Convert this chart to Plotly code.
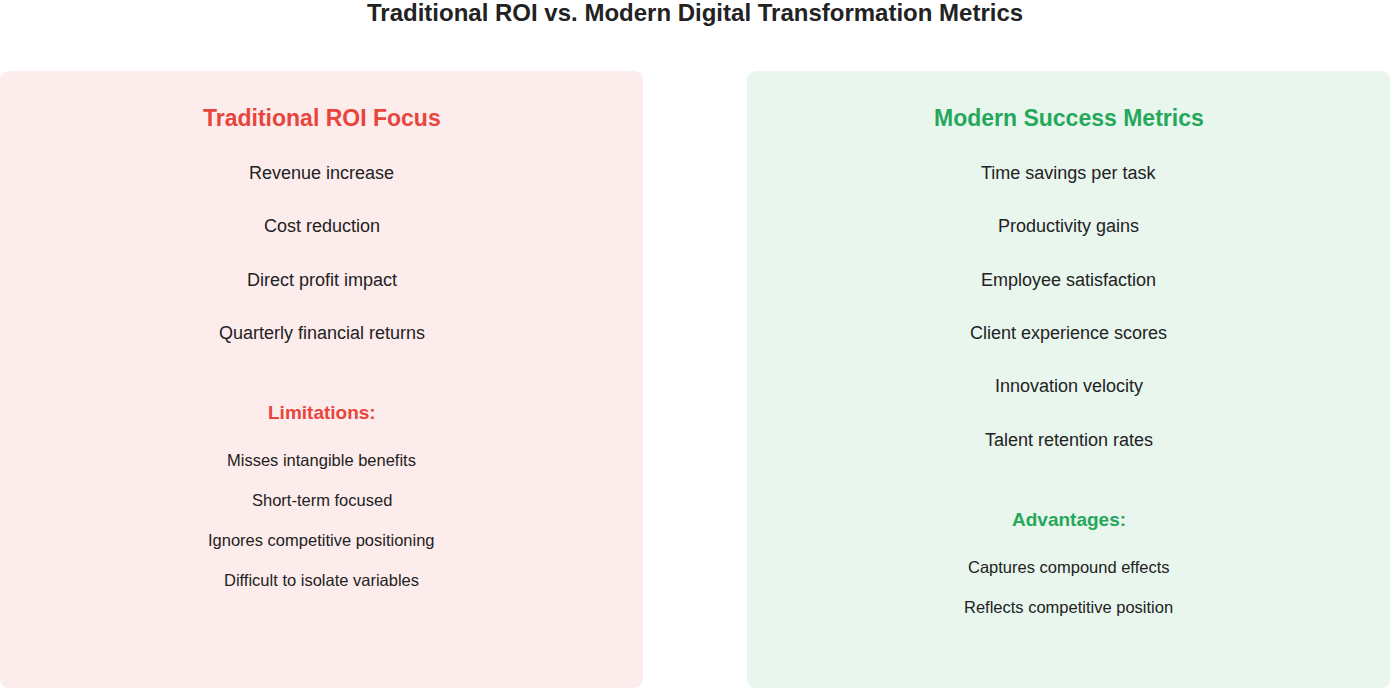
import plotly.graph_objects as go

title = "Traditional ROI vs. Modern Digital Transformation Metrics"
left_header = "Traditional ROI Focus"
left_items = ["Revenue increase", "Cost reduction", "Direct profit impact", "Quarterly financial returns"]
left_sub = "Limitations:"
left_sub_items = ["Misses intangible benefits", "Short-term focused", "Ignores competitive positioning", "Difficult to isolate variables"]
right_header = "Modern Success Metrics"
right_items = ["Time savings per task", "Productivity gains", "Employee satisfaction",
               "Client experience scores", "Innovation velocity", "Talent retention rates"]
right_sub = "Advantages:"
right_sub_items = ["Captures compound effects", "Reflects competitive position"]

W, H = 1390, 688
RED, GREEN, TXT = "#E8453C", "#25A85A", "#222222"
FONT = "Liberation Sans, Arial, sans-serif"

def rrect(x0, y0, x1, y1, r):
    return (f"M{x0+r},{y0} L{x1-r},{y0} Q{x1},{y0} {x1},{y0+r} L{x1},{y1-r} Q{x1},{y1} {x1-r},{y1} "
            f"L{x0+r},{y1} Q{x0},{y1} {x0},{y1-r} L{x0},{y0+r} Q{x0},{y0} {x0+r},{y0} Z")

fig = go.Figure()
fig.add_shape(type="path", path=rrect(0, 71, 643, 688, 10), fillcolor="#FDECEC", line_width=0, layer="below")
fig.add_shape(type="path", path=rrect(747, 71, 1390, 688, 10), fillcolor="#E8F6EE", line_width=0, layer="below")

def txt(x, y, s, size, color=TXT, bold=False):
    fig.add_annotation(x=x, y=y, text=f"<b>{s}</b>" if bold else s, showarrow=False,
                       font=dict(family=FONT, size=size, color=color), xanchor="center", yanchor="middle")

txt(695, 12, title, 24, "#222222", True)
lc, rc = 321.5, 1068.5
txt(lc, 118, left_header, 23, RED, True)
for i, s in enumerate(left_items):
    txt(lc, 173 + i * 53.3, s, 18)
txt(lc, 412, left_sub, 19, RED, True)
for i, s in enumerate(left_sub_items):
    txt(lc, 460 + i * 40, s, 16.5)
txt(rc, 118, right_header, 23, GREEN, True)
for i, s in enumerate(right_items):
    txt(rc, 173 + i * 53.3, s, 18)
txt(rc, 519, right_sub, 19, GREEN, True)
for i, s in enumerate(right_sub_items):
    txt(rc, 567 + i * 40, s, 16.5)

fig.update_xaxes(range=[0, W], visible=False, fixedrange=True)
fig.update_yaxes(range=[H, 0], visible=False, fixedrange=True)
fig.update_layout(width=W, height=H, margin=dict(l=0, r=0, t=0, b=0),
                  paper_bgcolor="white", plot_bgcolor="white", showlegend=False)
fig.write_html("out.html", config={"displayModeBar": False},
               post_script="document.body.style.margin='0';document.body.style.overflow='hidden';")
